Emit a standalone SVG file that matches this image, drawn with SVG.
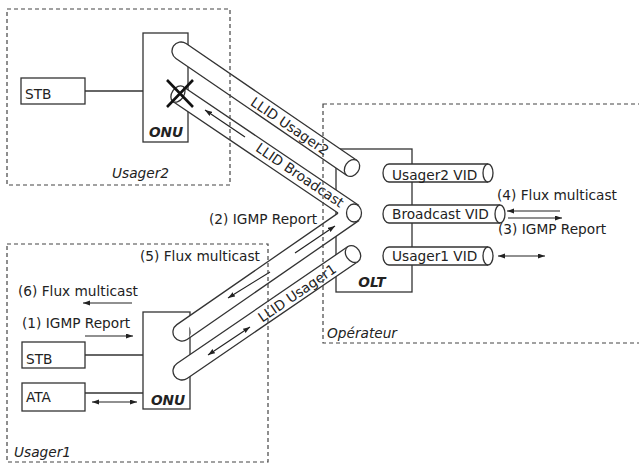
<svg xmlns="http://www.w3.org/2000/svg" width="639" height="463" viewBox="0 0 639 463">
<style>
text{font-family:"DejaVu Sans","Liberation Sans",sans-serif;font-size:13.7px;fill:#222}
.it{font-style:italic}
.bi{font-style:italic;font-weight:bold}
.box{fill:#fff;stroke:#333;stroke-width:1.3}
.dash{fill:none;stroke:#444;stroke-width:1.2;stroke-dasharray:4 3}
.ln{fill:none;stroke:#333;stroke-width:1.3}
.tf{fill:#fff;stroke:none}
.te{fill:none;stroke:#333;stroke-width:1.3}
.tc{fill:#fff;stroke:#333;stroke-width:1.3}
.ar{fill:none;stroke:#222;stroke-width:1.2}
.a1{marker-end:url(#ah)}
.a2{marker-end:url(#ah);marker-start:url(#ahs)}
</style>
<defs>
<marker id="ah" markerUnits="userSpaceOnUse" markerWidth="8" markerHeight="6" refX="7" refY="2.5" orient="auto"><path d="M0,0 L7,2.5 L0,5 z" fill="#222"/></marker>
<marker id="ahs" markerUnits="userSpaceOnUse" markerWidth="8" markerHeight="6" refX="7" refY="2.5" orient="auto-start-reverse"><path d="M0,0 L7,2.5 L0,5 z" fill="#222"/></marker>
</defs>

<g id="onu2">
<rect class="box" x="143" y="33" width="45" height="109"/>
<text class="bi" x="166" y="137" text-anchor="middle">ONU</text>
</g>
<g id="stb2">
<rect class="box" x="21" y="78" width="64" height="26"/>
<text x="25" y="99">STB</text>
</g>
<g id="onu1">
<rect class="box" x="143" y="312" width="47" height="97"/>
<text class="bi" x="168" y="405" text-anchor="middle">ONU</text>
</g>
<g id="stb1">
<rect class="box" x="22" y="342" width="63" height="26"/>
<text x="26" y="364">STB</text>
</g>
<g id="ata">
<rect class="box" x="22" y="383" width="63" height="28"/>
<text x="26" y="402">ATA</text>
</g>
<g id="olt">
<rect class="box" x="336" y="149" width="76" height="143"/>
<text class="bi" x="372" y="287" text-anchor="middle">OLT</text>
</g>

<g id="vids">
<g id="vid-usager2">
<path class="tc" d="M488,164 H389 A6 9 0 0 0 389,182 H488"/>
<ellipse class="tc" cx="488" cy="173" rx="5" ry="9"/>
<text x="392" y="180">Usager2 VID</text>
</g>
<g id="vid-broadcast">
<path class="tc" d="M500,205 H389 A6 9 0 0 0 389,223 H500"/>
<ellipse class="tc" cx="500" cy="214" rx="5" ry="9"/>
<text x="392" y="219">Broadcast VID</text>
</g>
<g id="vid-usager1">
<path class="tc" d="M488,247 H389 A6 9 0 0 0 389,265 H488"/>
<ellipse class="tc" cx="488" cy="256" rx="5" ry="9"/>
<text x="392" y="261">Usager1 VID</text>
</g>
</g>

<g id="connectors">
<line class="ln" x1="85" y1="91" x2="143" y2="91"/>
<line class="ln" x1="85" y1="355" x2="143" y2="355"/>
<line class="ln" x1="85" y1="393" x2="143" y2="393"/>

<!-- LLID Usager2 tube -->
<g id="tube-usager2" transform="translate(352,168) rotate(34.38)">
<path class="tf" d="M0,-9 H-207.2 A9 9 0 0 0 -207.2,9 H0 z"/>
<path class="te" d="M0,-9 H-207.2 A9 9 0 0 0 -207.2,9 H0"/>
<ellipse class="tc" cx="0" cy="0" rx="7" ry="9"/>
</g>
<!-- Broadcast tubes (V) -->
<g id="tube-broadcast2" transform="translate(354,213) rotate(34.06)">
<path class="tf" d="M0,-9 H-212.5 V9 H0 z"/>
</g>
<g id="tube-broadcast1" transform="translate(354,213) rotate(-34.68)">
<path class="tf" d="M0,-9 H-209.2 A9 9 0 0 1 -209.2,9 H0 z"/>
</g>
<g transform="translate(354,213) rotate(34.06)">
<path class="te" d="M0,-9 H-212.5 M-212.5,9 H-13.2"/>
<ellipse class="tc" cx="-212.5" cy="0" rx="6" ry="9"/>
</g>
<g transform="translate(354,213) rotate(-34.68)">
<path class="te" d="M-13.2,-9 H-209.2 A9 9 0 0 0 -209.2,9 H0"/>
</g>
<ellipse class="tc" cx="354" cy="213" rx="7.5" ry="9" transform="rotate(-0.3 354 213)"/>
<!-- LLID Usager1 tube -->
<g id="tube-usager1" transform="translate(353,254) rotate(-34.38)">
<path class="tf" d="M0,-9 H-207.2 A9 9 0 0 0 -207.2,9 H0 z"/>
<path class="te" d="M0,-9 H-207.2 A9 9 0 0 0 -207.2,9 H0"/>
<ellipse class="tc" cx="0" cy="0" rx="7" ry="9"/>
</g>

<!-- broken link X -->
<path d="M167,80 L193,107 M193,80 L167,107" fill="none" stroke="#111" stroke-width="2.6"/>

<!-- arrows in tubes -->
<line class="ar a1" x1="245" y1="137" x2="205" y2="110"/>
<line class="ar a1" x1="295" y1="253" x2="335" y2="226"/>
<line class="ar a1" x1="270" y1="272" x2="228" y2="298"/>
<line class="ar a2" x1="208" y1="355" x2="250" y2="327"/>

<!-- side arrows -->
<line class="ar a1" x1="132" y1="303" x2="83" y2="303"/>
<line class="ar a1" x1="85" y1="336" x2="133" y2="336"/>
<line class="ar a2" x1="92" y1="402" x2="137" y2="402"/>
<line class="ar a1" x1="560" y1="211" x2="507" y2="211"/>
<line class="ar a1" x1="508" y1="218" x2="562" y2="218"/>
<line class="ar a2" x1="498" y1="256" x2="545" y2="256"/>
</g>

<g id="tube-labels">
<text transform="translate(290,126) rotate(34.38)" x="0" y="5" text-anchor="middle">LLID Usager2</text>
<text transform="translate(300,175) rotate(34.06)" x="0" y="5" text-anchor="middle">LLID Broadcast</text>
<text transform="translate(297,293) rotate(-34.38)" x="0" y="5" text-anchor="middle">LLID Usager1</text>
</g>

<g id="labels">
<text x="209" y="224">(2) IGMP Report</text>
<text x="140" y="261">(5) Flux multicast</text>
<text x="18" y="296">(6) Flux multicast</text>
<text x="22" y="328">(1) IGMP Report</text>
<text x="497" y="200">(4) Flux multicast</text>
<text x="498" y="234">(3) IGMP Report</text>
</g>

<g id="zones">
<rect class="dash" x="7" y="9" width="223" height="176"/>
<text class="it" x="112" y="178">Usager2</text>
<rect class="dash" x="7" y="244" width="261" height="218"/>
<text class="it" x="14" y="457">Usager1</text>
<rect class="dash" x="323" y="104" width="330" height="239"/>
<text class="it" x="327" y="338">Opérateur</text>
</g>
</svg>
